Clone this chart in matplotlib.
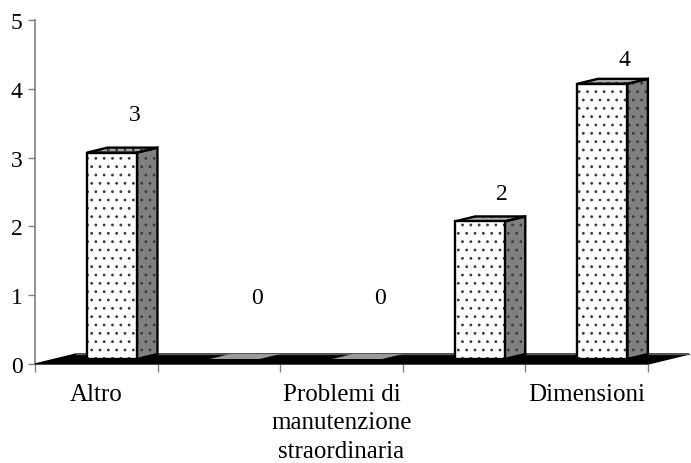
import matplotlib
matplotlib.use("Agg")
import matplotlib.pyplot as plt
from matplotlib.patches import Polygon

# Data
categories = ["Altro", "", "Problemi di\nmanutenzione\nstraordinaria", "", "Dimensioni"]
values = [3, 0, 0, 2, 4]
label_lift = [0.63, 0.97, 0.97, 0.48, 0.43]   # where each value label sits above its bar
y_ticks = [0, 1, 2, 3, 4, 5]

plt.rcParams["font.family"] = ["Liberation Serif", "DejaVu Serif"]
plt.rcParams["hatch.linewidth"] = 0.8

W, H = 691, 464
fig = plt.figure(figsize=(W / 100, H / 100), dpi=100)
ax = fig.add_axes([35 / W, (H - 365) / H, (648 - 35) / W, (365 - 21) / H])
ax.set_xlim(0, len(values))
ax.set_ylim(0, 5)

# pseudo-3D depth of the floor (x in category units, y in value units)
DX, DY = 0.334, 0.145
bar_left = 0.257     # offset of the bar inside its category slot
bar_w = 0.408


def face(pts, fc, lw, dots, z, ec="black", dot_color="#3a3a3a"):
    """Filled face, optional dotted texture, then the outline on top."""
    ax.add_patch(Polygon(pts, closed=True, facecolor=fc, edgecolor="none",
                         clip_on=False, zorder=z))
    if dots:
        ax.add_patch(Polygon(pts, closed=True, facecolor="none", edgecolor=dot_color,
                             lw=0, hatch="..", clip_on=False, zorder=z + 0.01))
    if lw > 0:
        ax.add_patch(Polygon(pts, closed=True, facecolor="none", edgecolor=ec,
                             lw=lw, joinstyle="miter", clip_on=False, zorder=z + 0.02))


# floor
face([(0, 0), (len(values), 0), (len(values) + DX, DY), (DX, DY)],
     "black", 1.0, False, 2)
ax.plot([DX, len(values) + DX], [DY, DY], color="#555555", lw=1.0,
        clip_on=False, zorder=2.1)

edge_lw = 1.7
for i, v in enumerate(values):
    x0 = i + bar_left + DX / 2
    y0 = DY / 2
    x1 = x0 + bar_w
    if v > 0:
        # side face
        face([(x1, y0), (x1 + DX / 2, y0 + DY / 2), (x1 + DX / 2, y0 + DY / 2 + v),
              (x1, y0 + v)], "#808080", edge_lw, True, 3)
        # top face
        face([(x0, y0 + v), (x1, y0 + v), (x1 + DX / 2, y0 + DY / 2 + v),
              (x0 + DX / 2, y0 + DY / 2 + v)], "#a8a8a8", edge_lw, True, 3)
        # front face
        face([(x0, y0), (x1, y0), (x1, y0 + v), (x0, y0 + v)], "white", edge_lw, True, 4)
    else:
        # a zero-height column leaves only its flat grey cap on the floor
        face([(x0, y0 + v), (x1, y0 + v), (x1 + DX / 2, y0 + DY / 2 + v),
              (x0 + DX / 2, y0 + DY / 2 + v)], "#9a9a9a", 0, False, 3)
    # value label
    ax.text(i + 0.81, v + label_lift[i], f"{v}", ha="center", va="center",
            fontsize=17, color="black", zorder=5)

# axes styling
for s in ("top", "right", "bottom"):
    ax.spines[s].set_visible(False)
ax.spines["left"].set_color("#808080")
ax.spines["left"].set_linewidth(1.2)
ax.spines["left"].set_zorder(1)

ax.set_yticks(y_ticks)
ax.set_yticklabels([str(t) for t in y_ticks], fontsize=17)
ax.tick_params(axis="y", direction="out", length=5, width=1.0, color="#808080", pad=4)

ax.set_xticks(range(len(values) + 1))
ax.set_xticklabels([])
ax.tick_params(axis="x", direction="out", length=6, width=1.0, color="#808080")

for i, name in enumerate(categories):
    if name:
        ax.text(i + 0.5, -0.27, name, ha="center", va="top", fontsize=18,
                linespacing=1.4, transform=ax.transData, clip_on=False)

fig.savefig("out.png", dpi=100)
